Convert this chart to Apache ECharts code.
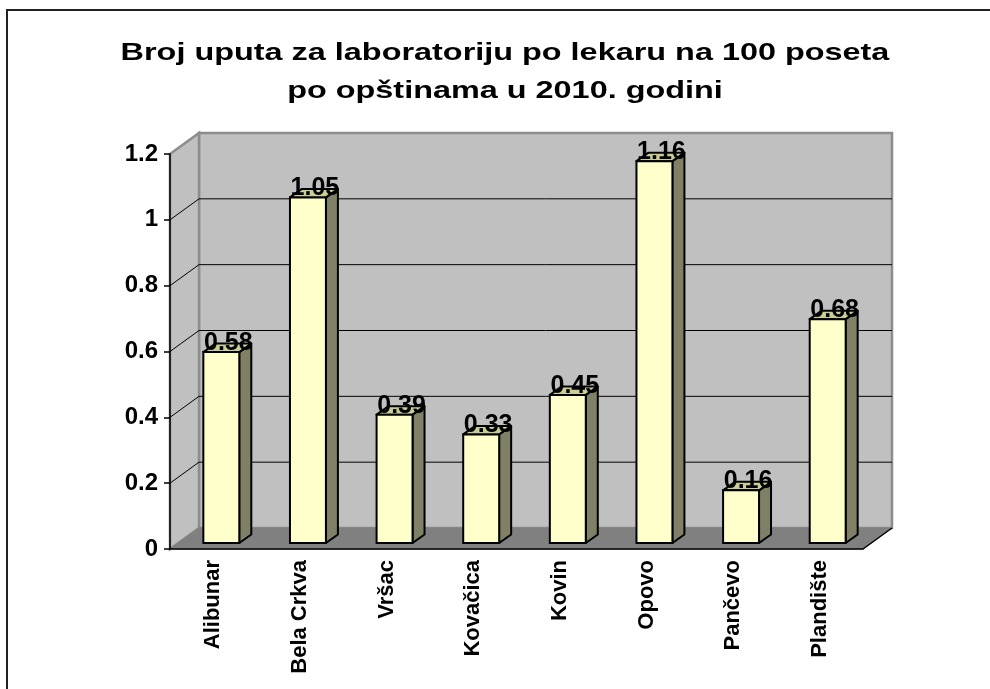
<!DOCTYPE html>
<html>
<head>
<meta charset="utf-8">
<script src="https://cdn.jsdelivr.net/npm/echarts@6/dist/echarts.min.js"></script>
<style>
  html, body { margin: 0; padding: 0; background: #fff; }
  #chart { width: 990px; height: 689px; }
</style>
</head>
<body>
<div id="chart"></div>
<script>
const categories = ['Alibunar', 'Bela Crkva', 'Vršac', 'Kovačica', 'Kovin', 'Opovo', 'Pančevo', 'Plandište']
const values = [0.58, 1.05, 0.39, 0.33, 0.45, 1.16, 0.16, 0.68]
const gridTicks = [0.2, 0.4, 0.6, 0.8, 1.0]

// depth of the 3d box
const DX = 29
const DY = -21
const FONT = 'Liberation Sans, Arial, sans-serif'

const chart = echarts.init(document.getElementById('chart'))

function renderFrame (params, api) {
  const cs = params.coordSys
  const L = cs.x
  const T = cs.y
  const R = cs.x + cs.width
  const B = cs.y + cs.height
  const children = [
    {
      type: 'rect',
      shape: { x: L + DX, y: T + DY, width: cs.width, height: cs.height },
      style: { fill: '#c0c0c0', stroke: '#8c8c8c', lineWidth: 2.5 }
    },
    {
      type: 'polygon',
      shape: { points: [[L, T], [L + DX, T + DY], [L + DX, B + DY], [L, B]] },
      style: { fill: '#c0c0c0', stroke: '#8c8c8c', lineWidth: 2.5 }
    },
    {
      type: 'polygon',
      shape: { points: [[L, B], [L + DX, B + DY], [R + DX, B + DY], [R, B]] },
      style: { fill: '#808080', stroke: '#808080', lineWidth: 1 }
    },
    {
      type: 'line',
      shape: { x1: R, y1: B, x2: R + DX, y2: B + DY },
      style: { stroke: '#000', lineWidth: 1.5 }
    }
  ]
  gridTicks.forEach(v => {
    const y = api.coord([0, v])[1]
    children.push({
      type: 'line',
      shape: { x1: L + DX, y1: y + DY, x2: R + DX, y2: y + DY },
      style: { stroke: '#000', lineWidth: 1 }
    })
    children.push({
      type: 'line',
      shape: { x1: L, y1: y, x2: L + DX, y2: y + DY },
      style: { stroke: '#000', lineWidth: 1 }
    })
  })
  return { type: 'group', children: children }
}

function renderBar (params, api) {
  const v = api.value(1)
  const base = api.coord([api.value(0), 0])
  const top = api.coord([api.value(0), v])
  const w = api.size([1, 0])[0] * 0.415
  const fx = base[0] - w / 2 + 8
  const fb = base[1] - 6
  const ft = top[1] - 6
  const sx = 12
  const sy = -8.5
  return {
    type: 'group',
    children: [
      {
        type: 'polygon',
        shape: { points: [[fx + w, ft], [fx + w + sx, ft + sy], [fx + w + sx, fb + sy], [fx + w, fb]] },
        style: { fill: '#808066', stroke: '#000', lineWidth: 2, lineJoin: 'round' }
      },
      {
        type: 'polygon',
        shape: { points: [[fx, ft], [fx + sx, ft + sy], [fx + w + sx, ft + sy], [fx + w, ft]] },
        style: { fill: '#cccc99', stroke: '#000', lineWidth: 2, lineJoin: 'round' }
      },
      {
        type: 'rect',
        shape: { x: fx, y: ft, width: w, height: fb - ft },
        style: { fill: '#ffffcc', stroke: '#000', lineWidth: 2 }
      },
      {
        type: 'text',
        x: fx + w / 2 + 7,
        y: ft - 9,
        z2: 10,
        style: {
          text: String(v),
          fill: '#000',
          font: 'bold 25px ' + FONT,
          align: 'center',
          verticalAlign: 'middle'
        }
      }
    ]
  }
}

const option = {
  backgroundColor: '#fff',
  animation: false,
  graphic: [
    {
      type: 'rect',
      shape: { x: 7, y: 10, width: 1000, height: 700 },
      style: { fill: 'none', stroke: '#222', lineWidth: 2 }
    },
    {
      type: 'text',
      x: 505,
      y: 53,
      scaleX: 1.35,
      style: {
        text: 'Broj uputa za laboratoriju po lekaru na 100 poseta',
        font: 'bold 24px ' + FONT,
        fill: '#000',
        align: 'center',
        verticalAlign: 'middle'
      }
    },
    {
      type: 'text',
      x: 505,
      y: 91,
      scaleX: 1.35,
      style: {
        text: 'po opštinama u 2010. godini',
        font: 'bold 24px ' + FONT,
        fill: '#000',
        align: 'center',
        verticalAlign: 'middle'
      }
    }
  ],
  grid: {
    left: 170,
    right: 127,
    top: 154,
    bottom: 140
  },
  xAxis: {
    type: 'category',
    data: categories,
    z: 5,
    axisLine: { lineStyle: { color: '#000', width: 1.5 } },
    axisTick: { length: 7, lineStyle: { color: '#000', width: 1.5 } },
    axisLabel: {
      rotate: 90,
      interval: 0,
      margin: 11,
      color: '#000',
      fontSize: 22,
      fontWeight: 'bold',
      fontFamily: FONT
    }
  },
  yAxis: {
    type: 'value',
    min: 0,
    max: 1.2,
    interval: 0.2,
    z: 5,
    splitLine: { show: false },
    axisLine: { show: true, lineStyle: { color: '#000', width: 1.5 } },
    axisTick: { show: true, length: 6, lineStyle: { color: '#000', width: 1.5 } },
    axisLabel: {
      margin: 12,
      color: '#000',
      fontSize: 24,
      fontWeight: 'bold',
      fontFamily: FONT
    }
  },
  series: [
    {
      type: 'custom',
      name: 'frame',
      z: 1,
      clip: false,
      silent: true,
      renderItem: renderFrame,
      data: [[0, 0]]
    },
    {
      type: 'custom',
      name: 'uputa',
      z: 2,
      clip: false,
      renderItem: renderBar,
      data: categories.map((c, i) => [i, values[i]])
    }
  ]
}

chart.setOption(option)
</script>
</body>
</html>
